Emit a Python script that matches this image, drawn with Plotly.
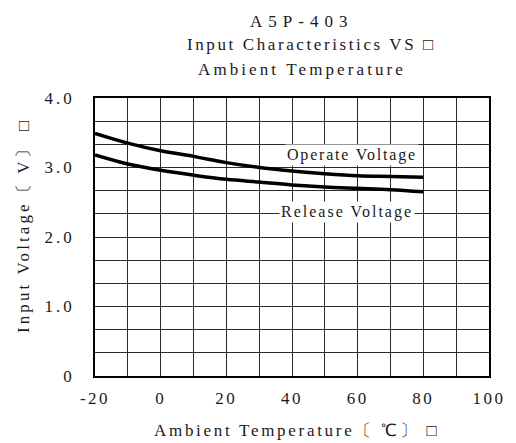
import plotly.graph_objects as go

temps = [-20, -10, 0, 10, 20, 30, 40, 50, 60, 70, 80]
operate_v = [3.49, 3.35, 3.24, 3.16, 3.07, 3.00, 2.95, 2.91, 2.88, 2.87, 2.86]
release_v = [3.18, 3.05, 2.96, 2.89, 2.83, 2.79, 2.75, 2.72, 2.70, 2.68, 2.65]
x_ticks = [-20, 0, 20, 40, 60, 80, 100]
x_ticktext = ["-20", "0", "20", "40", "60", "80", "100"]
y_ticks = [0, 1, 2, 3, 4]
y_ticktext = ["0", "1.0", "2.0", "3.0", "4.0"]
title_lines = ["A5P-403", "Input Characteristics VS □", "Ambient Temperature"]
x_title = "Ambient Temperature〔 ℃〕 □"
y_title = "Input Voltage〔 V〕 □"

FONT = "Liberation Serif"
TXT = "#1a1a1a"
GRID = "#2a2a2a"

# page body has an 8px margin, so the figure is 8px smaller than the window
W, H = 508, 435
L, T, R, B = 87, 90, 27, 67
PW, PH = W - L - R, H - T - B


def px_x(X):  # window pixel -> paper x
    return (X - 8 - L) / PW


def px_y(Y):  # window pixel -> paper y
    return (H - B - (Y - 8)) / PH


def sp(text, px):
    return f'<span style="letter-spacing:{px}px">{text}</span>'


fig = go.Figure()
fig.add_trace(go.Scatter(x=temps, y=operate_v, mode="lines",
                         line=dict(color="black", width=3.5, shape="spline"), showlegend=False))
fig.add_trace(go.Scatter(x=temps, y=release_v, mode="lines",
                         line=dict(color="black", width=3.5, shape="spline"), showlegend=False))

fig.add_annotation(xref="paper", yref="paper", x=px_x(352), y=px_y(154.5),
                   xanchor="center", yanchor="middle",
                   text=sp("Operate Voltage", 1.8), showarrow=False, bgcolor="white",
                   font=dict(family=FONT, size=16, color=TXT), borderpad=1)
fig.add_annotation(xref="paper", yref="paper", x=px_x(347), y=px_y(212),
                   xanchor="center", yanchor="middle",
                   text=sp("Release Voltage", 2), showarrow=False, bgcolor="white",
                   font=dict(family=FONT, size=16, color=TXT), borderpad=1)

# title lines
title_x = [301, 311, 301.5]
title_y = [22, 44, 69]
title_sp = [6, 2.6, 3.1]
for line, xx, yy, s in zip(title_lines, title_x, title_y, title_sp):
    fig.add_annotation(xref="paper", yref="paper", x=px_x(xx), y=px_y(yy),
                       xanchor="center", yanchor="middle", text=sp(line, s), showarrow=False,
                       font=dict(family=FONT, size=17, color=TXT))

# axis titles
fig.add_annotation(xref="paper", yref="paper", x=px_x(296), y=px_y(430),
                   xanchor="center", yanchor="middle", text=sp(x_title, 2.7), showarrow=False,
                   font=dict(family=FONT, size=17, color=TXT))
fig.add_annotation(xref="paper", yref="paper", x=px_x(23), y=px_y(226),
                   xanchor="center", yanchor="middle", text=sp(y_title, 3.1), showarrow=False,
                   textangle=-90, font=dict(family=FONT, size=17, color=TXT))

fig.update_layout(
    width=W, height=H,
    margin=dict(l=L, r=R, t=T, b=B),
    paper_bgcolor="white", plot_bgcolor="white",
    font=dict(family=FONT, size=17, color=TXT),
    xaxis=dict(range=[-20, 100], tickvals=x_ticks, ticktext=[sp(t, 2.5) for t in x_ticktext],
               showgrid=True, gridcolor=GRID, gridwidth=1,
               minor=dict(dtick=10, tick0=0, showgrid=True, gridcolor=GRID, gridwidth=1),
               showline=True, linecolor="black", linewidth=1.5, mirror=True, ticks="",
               zeroline=False, tickfont=dict(size=17), automargin=False, ticklabelstandoff=6),
    yaxis=dict(range=[0, 4], tickvals=y_ticks, ticktext=[sp(t, 3) for t in y_ticktext],
               showgrid=True, gridcolor=GRID, gridwidth=1,
               minor=dict(dtick=4 / 12, tick0=0, showgrid=True, gridcolor=GRID, gridwidth=1),
               showline=True, linecolor="black", linewidth=1.5, mirror=True, ticks="",
               zeroline=False, tickfont=dict(size=17), automargin=False, ticklabelstandoff=15),
)

fig.write_html("out.html")
